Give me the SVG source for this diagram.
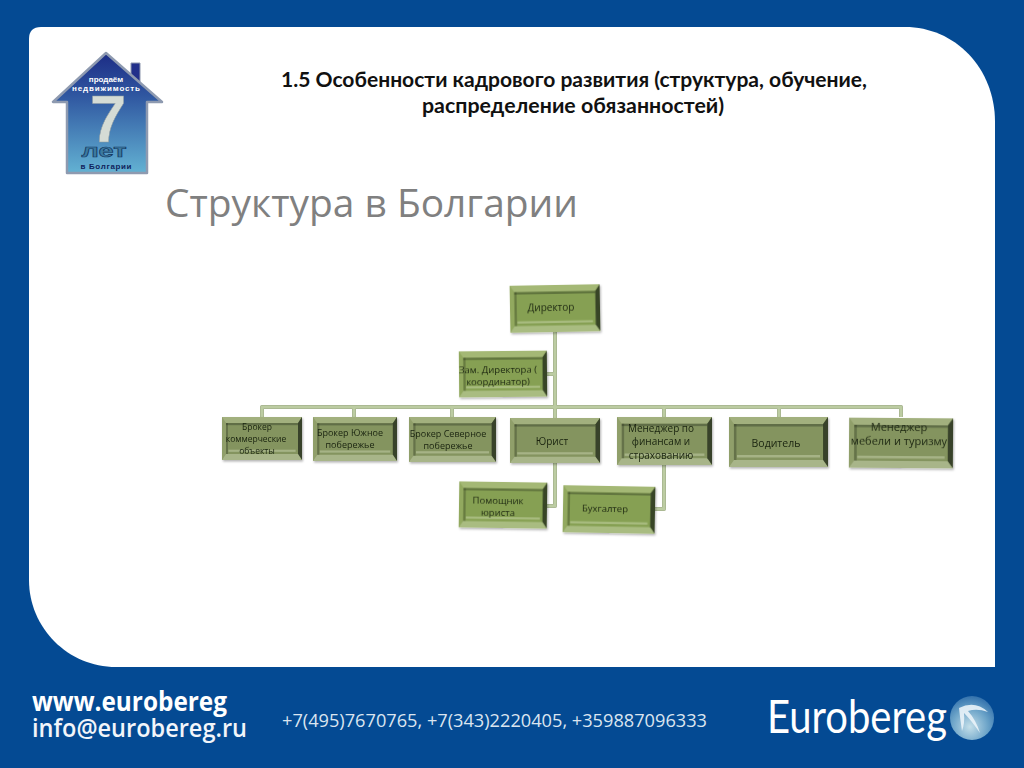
<svg xmlns="http://www.w3.org/2000/svg" width="1024" height="768" viewBox="0 0 1024 768">
<style>
.t{font-family:"Open Sans","Liberation Sans",sans-serif;text-anchor:middle;fill:#1a2410}
.conn{fill:none;stroke:#bccca2;stroke-width:3;stroke-linejoin:round}
.connb{fill:none;stroke:#9aa684;stroke-width:4;stroke-linejoin:round}
.g1{color:#86a052}.g2{color:#84945f}
.lg{font-family:"Liberation Sans",sans-serif;font-weight:700;text-anchor:middle}
</style>
<defs>
<linearGradient id="house" x1="0" y1="0" x2="0" y2="1"><stop offset="0" stop-color="#1c2c85"/><stop offset=".35" stop-color="#2f56a0"/><stop offset="1" stop-color="#63b2d3"/></linearGradient>
<radialGradient id="ball" cx=".45" cy=".7" r=".75"><stop offset="0" stop-color="#c4dfe9"/><stop offset=".55" stop-color="#6ba3c8"/><stop offset="1" stop-color="#2a69a8"/></radialGradient>
<filter id="soft" x="-5%" y="-10%" width="115%" height="125%"><feGaussianBlur stdDeviation=".4"/><feDropShadow dx="1" dy="1.5" stdDeviation="1" flood-color="#000" flood-opacity=".3"/></filter>
<symbol id="bevel" viewBox="0 0 100 100" preserveAspectRatio="none">
<rect width="100" height="100" fill="currentColor"/>
<polygon points="0,0 100,0 95,14 5,14" fill="#d5e0b0" fill-opacity=".38"/>
<polygon points="0,0 5,14 5,86 0,100" fill="#d5e0b0" fill-opacity=".15"/>
<polygon points="100,0 100,100 95,86 95,14" fill="#2a3520" fill-opacity=".85"/>
<polygon points="0,100 100,100 95,86 5,86" fill="#dfe6c8" fill-opacity=".4"/>
<rect x="5" y="14" width="90" height="5" fill="#2a3520" fill-opacity=".4"/>
<rect x="5" y="14" width="2.500" height="72" fill="#2a3520" fill-opacity=".35"/>
<rect x="8" y="76" width="84" height="5" fill="#e6edd0" fill-opacity=".35"/>
</symbol>
</defs>
<rect id="bg" width="1024" height="768" fill="#044a93"/>
<path id="panel" d="M41 27H905C955 27 995 68 995 122V667H116C68 667 29 628 29 580V39Q29 27 41 27Z" fill="#fff"/>

<g id="logo">
<polygon points="131,63 140,63 140,90 131,85" fill="#22308a" stroke="#8d97ad"/>
<polygon points="106,53 53,102 67,102 67,173 147,173 147,102 162,102" fill="url(#house)" stroke="#8e9ab0" stroke-width="2.500" stroke-linejoin="round"/>
<text class="lg" x="106" y="81.500" font-size="8" fill="#fff">продаём</text>
<text class="lg" x="106" y="91" font-size="8" fill="#fff" textLength="68">недвижимость</text>
<text class="lg" x="108" y="142" font-size="66" fill="#d5dcd5" stroke="#8d9aa0" stroke-width=".5">7</text>
<text class="lg" x="104" y="157" font-size="18" fill="#3c7aa0" stroke="#12355f" stroke-width=".6" textLength="45" lengthAdjust="spacingAndGlyphs">лет</text>
<text class="lg" x="106" y="169" font-size="8" fill="#10235c" textLength="51">в Болгарии</text>
</g>

<g id="titles">
<text x="574" y="87" font-family="Lato,sans-serif" font-weight="700" font-size="20" fill="#111" text-anchor="middle" textLength="586" lengthAdjust="spacingAndGlyphs">1.5 Особенности кадрового развития (структура, обучение,</text>
<text x="573" y="113" font-family="Lato,sans-serif" font-weight="700" font-size="20" fill="#111" text-anchor="middle" textLength="302" lengthAdjust="spacingAndGlyphs">распределение обязанностей)</text>
<text x="165" y="217" font-family="Open Sans,sans-serif" font-size="38" fill="#808080" textLength="413" lengthAdjust="spacingAndGlyphs">Структура в Болгарии</text>
</g>

<g id="connectors">
<path class="connb" d="M555 332V418M547 374H555M262 417V407H901V417M354 417V407M452 417V407M664 417V407M779 417V407M555 463V506H547M664 465V509H655"/>
<path class="conn" d="M555 332V418M547 374H555M262 417V407H901V417M354 417V407M452 417V407M664 417V407M779 417V407M555 463V506H547M664 465V509H655"/>
</g>

<g id="n-director" class="g1" filter="url(#soft)" transform="rotate(-1 555 308)"><use href="#bevel" x="510" y="285" width="90" height="47"/><text class="t" x="551" y="311" font-size="10">Директор</text></g>
<g id="n-deputy" class="g1" filter="url(#soft)" transform="rotate(-.5 503 374)"><use href="#bevel" x="459" y="351" width="88" height="46"/><text class="t" x="498" y="372.500" font-size="9.500">Зам. Директора (</text><text class="t" x="498" y="384.500" font-size="9.500">координатор)</text></g>
<g id="n-broker1" class="g2" filter="url(#soft)"><use href="#bevel" x="222" y="417" width="80" height="43"/><text class="t" x="257" y="430" font-size="8.500">Брокер</text><text class="t" x="256" y="441.500" font-size="8.500">коммерческие</text><text class="t" x="257" y="453.500" font-size="8.500">объекты</text></g>
<g id="n-broker2" class="g2" filter="url(#soft)"><use href="#bevel" x="313" y="417" width="84" height="44"/><text class="t" x="350" y="436" font-size="9">Брокер Южное</text><text class="t" x="350" y="448" font-size="9">побережье</text></g>
<g id="n-broker3" class="g2" filter="url(#soft)"><use href="#bevel" x="409" y="417" width="87" height="45"/><text class="t" x="448" y="437" font-size="9">Брокер Северное</text><text class="t" x="448" y="449" font-size="9">побережье</text></g>
<g id="n-lawyer" class="g2" filter="url(#soft)"><use href="#bevel" x="510" y="418" width="90" height="45"/><text class="t" x="552" y="444.500" font-size="10">Юрист</text></g>
<g id="n-fin" class="g2" filter="url(#soft)"><use href="#bevel" x="617" y="417" width="95" height="48"/><text class="t" x="661" y="432" font-size="10">Менеджер по</text><text class="t" x="661" y="445" font-size="10">финансам и</text><text class="t" x="661" y="459" font-size="10">страхованию</text></g>
<g id="n-driver" class="g2" filter="url(#soft)"><use href="#bevel" x="729" y="417" width="99" height="50"/><text class="t" x="776" y="447" font-size="10.500">Водитель</text></g>
<g id="n-furniture" class="g2" filter="url(#soft)" transform="rotate(.4 901 443)"><use href="#bevel" x="849" y="418" width="104" height="50"/><text class="t" x="899" y="431" font-size="11">Менеджер</text><text class="t" x="899" y="445" font-size="11">мебели и туризму</text></g>
<g id="n-assistant" class="g1" filter="url(#soft)" transform="rotate(.8 503 505)"><use href="#bevel" x="459" y="482" width="88" height="46"/><text class="t" x="498" y="503.500" font-size="9.500">Помощник</text><text class="t" x="498" y="515.500" font-size="9.500">юриста</text></g>
<g id="n-accountant" class="g1" filter="url(#soft)" transform="rotate(1 609 509)"><use href="#bevel" x="563" y="486" width="92" height="47"/><text class="t" x="605" y="512.500" font-size="9.500">Бухгалтер</text></g>

<g id="footer">
<text x="32" y="711" font-family="Open Sans,sans-serif" font-weight="700" font-size="26" fill="#fff" textLength="195" lengthAdjust="spacingAndGlyphs">www.eurobereg</text>
<text x="32" y="737" font-family="Open Sans,sans-serif" font-weight="600" font-size="24.500" fill="#f2f5fa" textLength="215" lengthAdjust="spacingAndGlyphs">info@eurobereg.ru</text>
<text x="282" y="727" font-family="Open Sans,sans-serif" font-size="18" fill="#dbe5f0" textLength="425" lengthAdjust="spacingAndGlyphs">+7(495)7670765, +7(343)2220405, +359887096333</text>
<text x="767" y="733" font-family="Lato,sans-serif" font-size="46" fill="#fff" textLength="180" lengthAdjust="spacingAndGlyphs">Eurobereg</text>
<circle cx="972" cy="718" r="22" fill="url(#ball)"/>
<path d="M959 708Q975 700 988 712Q977 708 968 711Q976 720 980 733Q971 720 964 713Q965 723 962 731Q960 718 959 708Z" fill="#eaf3f8" fill-opacity=".9"/>
</g>
</svg>
